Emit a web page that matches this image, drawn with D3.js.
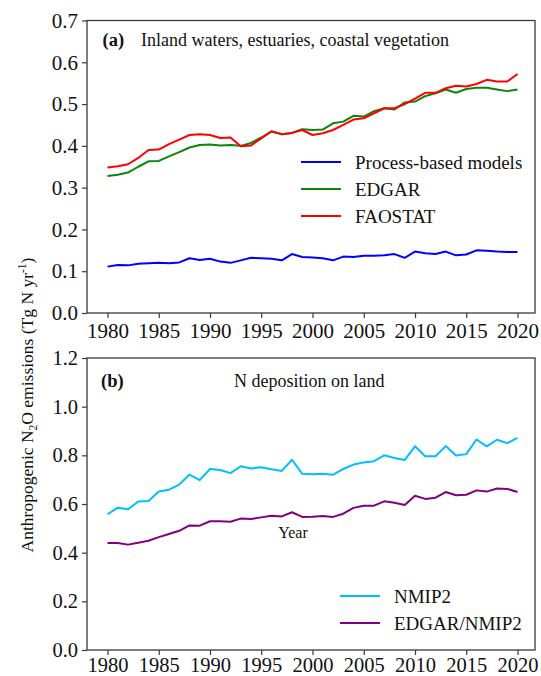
<!DOCTYPE html>
<html>
<head>
<meta charset="utf-8">
<script src="https://cdn.jsdelivr.net/npm/d3@7"></script>
<style>
  html, body { margin: 0; padding: 0; background: #fff; }
  svg { display: block; font-family: "Liberation Serif", "Times New Roman", serif; }
</style>
</head>
<body>
<svg id="chart" width="541" height="676"></svg>
<script>
const years = d3.range(1980, 2021);

// Panel (a): Inland waters, estuaries, coastal vegetation
const processBased = [0.111,0.115,0.114,0.118,0.119,0.120,0.119,0.121,0.131,0.127,0.130,0.123,0.120,0.126,0.132,0.131,0.130,0.126,0.141,0.134,0.133,0.131,0.126,0.135,0.134,0.137,0.137,0.138,0.141,0.132,0.147,0.143,0.141,0.147,0.138,0.140,0.150,0.149,0.147,0.146,0.146];
const edgar = [0.328,0.331,0.336,0.350,0.363,0.364,0.375,0.385,0.396,0.402,0.403,0.401,0.402,0.400,0.407,0.420,0.434,0.428,0.431,0.440,0.438,0.439,0.454,0.458,0.472,0.470,0.483,0.490,0.487,0.504,0.506,0.519,0.526,0.535,0.527,0.536,0.539,0.539,0.535,0.531,0.535];
const faostat = [0.348,0.351,0.356,0.371,0.390,0.391,0.404,0.415,0.426,0.428,0.426,0.419,0.420,0.399,0.401,0.418,0.435,0.428,0.431,0.438,0.426,0.430,0.438,0.450,0.463,0.466,0.478,0.490,0.490,0.500,0.513,0.527,0.527,0.538,0.544,0.542,0.548,0.558,0.554,0.554,0.572];

// Panel (b): N deposition on land
const nmip2 = [0.558,0.585,0.578,0.610,0.612,0.651,0.659,0.680,0.721,0.698,0.744,0.740,0.727,0.755,0.746,0.751,0.743,0.736,0.782,0.724,0.722,0.724,0.720,0.744,0.762,0.771,0.776,0.800,0.789,0.781,0.837,0.796,0.796,0.838,0.799,0.805,0.865,0.837,0.864,0.850,0.872];
const edgarNmip2 = [0.440,0.440,0.433,0.441,0.449,0.464,0.477,0.490,0.512,0.511,0.529,0.529,0.527,0.540,0.538,0.545,0.552,0.549,0.566,0.547,0.548,0.551,0.547,0.560,0.584,0.593,0.593,0.611,0.605,0.596,0.634,0.621,0.626,0.649,0.636,0.638,0.656,0.651,0.664,0.662,0.649];

const xTicks = [1980,1985,1990,1995,2000,2005,2010,2015,2020];
const yTicksA = [0.0,0.1,0.2,0.3,0.4,0.5,0.6,0.7];
const yTicksB = [0.0,0.2,0.4,0.6,0.8,1.0,1.2];

const seriesA = [
  {name: "Process-based models", values: processBased, color: "#0000ff"},
  {name: "EDGAR", values: edgar, color: "#0a860a"},
  {name: "FAOSTAT", values: faostat, color: "#ff0000"}
];
const seriesB = [
  {name: "NMIP2", values: nmip2, color: "#00bfff"},
  {name: "EDGAR/NMIP2", values: edgarNmip2, color: "#800080"}
];

const svg = d3.select("#chart");
const frameLeft = 87, frameRight = 535;
const x = d3.scaleLinear().domain([1980, 2020]).range([107.5, 517.5]);

function panel(cfg) {
  const y = d3.scaleLinear().domain([0, cfg.ymax]).range([cfg.bottom, cfg.top]);
  const g = svg.append("g");

  const line = d3.line().x((d, i) => x(years[i])).y(d => y(d));
  cfg.series.forEach(s => {
    g.append("path").datum(s.values)
      .attr("fill", "none").attr("stroke", s.color)
      .attr("stroke-width", 2).attr("stroke-linejoin", "round")
      .attr("d", line);
  });

  g.append("rect")
    .attr("x", frameLeft).attr("y", cfg.top)
    .attr("width", frameRight - frameLeft).attr("height", cfg.bottom - cfg.top)
    .attr("fill", "none").attr("stroke", "#3a3a3a").attr("stroke-width", 1.3);

  const xa = g.append("g").attr("transform", `translate(0,${cfg.bottom})`)
    .call(d3.axisBottom(x).tickValues(xTicks).tickFormat(d3.format("d")).tickSize(5).tickPadding(cfg.xPad));
  const ya = g.append("g").attr("transform", `translate(${frameLeft},0)`)
    .call(d3.axisLeft(y).tickValues(cfg.yTicks).tickFormat(d3.format(".1f")).tickSize(5).tickPadding(4));
  [xa, ya].forEach(a => {
    a.select(".domain").remove();
    a.selectAll("line").attr("stroke", "#3a3a3a").attr("stroke-width", 1.2);
    a.selectAll("text").attr("font-family", "Liberation Serif").attr("font-size", cfg.tickFont).attr("fill", "#111");
  });

  g.append("text").attr("x", cfg.labelX).attr("y", cfg.titleY)
    .attr("font-size", 18.5).attr("font-weight", "bold").attr("fill", "#111").text(cfg.label);
  g.append("text").attr("x", cfg.titleX).attr("y", cfg.titleY)
    .attr("font-size", 18).attr("fill", "#111").text(cfg.title);

  cfg.series.forEach((s, i) => {
    const ly = cfg.legY + i * 27;
    g.append("line").attr("x1", cfg.legX).attr("x2", cfg.legX + 40)
      .attr("y1", ly).attr("y2", ly).attr("stroke", s.color).attr("stroke-width", 2);
    g.append("text").attr("x", cfg.legX + 54).attr("y", ly).attr("dy", "0.35em")
      .attr("font-size", 19).attr("fill", "#111").text(s.name);
  });
}

panel({top: 20.5, bottom: 313, ymax: 0.7, yTicks: yTicksA, series: seriesA,
  label: "(a)", title: "Inland waters, estuaries, coastal vegetation",
  labelX: 102.5, titleX: 141, titleY: 46, legX: 301, legY: 162, xPad: 5, tickFont: 21});
panel({top: 358, bottom: 650, ymax: 1.2, yTicks: yTicksB, series: seriesB,
  label: "(b)", title: "N deposition on land",
  labelX: 101, titleX: 234, titleY: 387, legX: 340, legY: 596, xPad: 2, tickFont: 20.5});

svg.append("text").attr("x", 293).attr("y", 538).attr("text-anchor", "middle")
  .attr("font-size", 16).attr("fill", "#111").text("Year");

const yl = svg.append("text")
  .attr("transform", "translate(33,405) rotate(-90)")
  .attr("text-anchor", "middle").attr("font-size", 17.5).attr("fill", "#111");
yl.append("tspan").text("Anthropogenic N");
yl.append("tspan").attr("font-size", 11.5).attr("dy", 4).text("2");
yl.append("tspan").attr("dy", -4).text("O emissions (Tg N yr");
yl.append("tspan").attr("font-size", 11.5).attr("dy", -7).text("-1");
yl.append("tspan").attr("dy", 7).text(")");
</script>
</body>
</html>
